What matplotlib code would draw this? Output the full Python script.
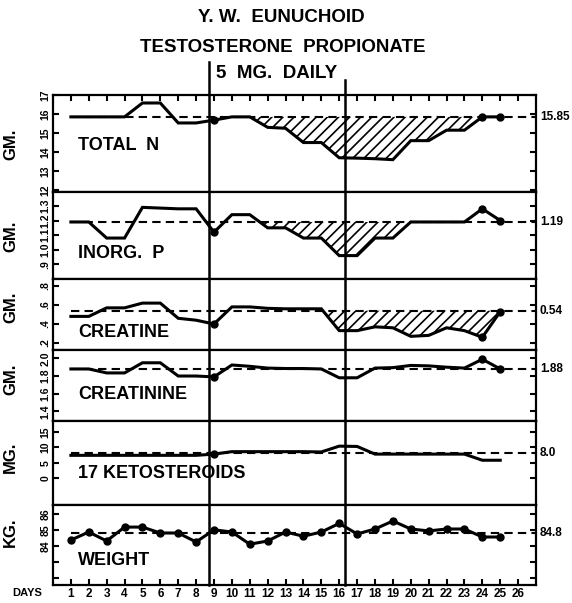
import matplotlib
matplotlib.use('Agg')
import matplotlib.pyplot as plt
import matplotlib.transforms as mtransforms
from matplotlib.lines import Line2D

plt.rcParams['font.family'] = ['Liberation Sans', 'DejaVu Sans']
plt.rcParams['font.weight'] = 'bold'
plt.rcParams['axes.labelweight'] = 'bold'
plt.rcParams['hatch.linewidth'] = 1.2

# dados (dias 1 a 25)
days = list(range(1, 26))
day_ticks = list(range(1, 27))

total_n = [15.85, 15.85, 15.85, 15.85, 16.58, 16.58, 15.53, 15.53, 15.68, 15.85, 15.85, 15.3, 15.25,
           14.5, 14.5, 13.7, 13.68, 13.65, 13.6, 14.6, 14.6, 15.15, 15.15, 15.85, 15.85]
inorg_p = [1.19, 1.19, 1.08, 1.08, 1.29, 1.285, 1.28, 1.28, 1.12, 1.24, 1.24, 1.15, 1.15,
           1.08, 1.08, 0.96, 0.96, 1.08, 1.08, 1.19, 1.19, 1.19, 1.19, 1.28, 1.20]
creatine = [0.48, 0.48, 0.57, 0.57, 0.62, 0.62, 0.46, 0.44, 0.40, 0.58, 0.58, 0.565, 0.56,
            0.56, 0.56, 0.33, 0.33, 0.37, 0.36, 0.27, 0.28, 0.36, 0.33, 0.26, 0.53]
creatinine = [1.88, 1.88, 1.835, 1.835, 1.95, 1.95, 1.80, 1.80, 1.79, 1.925, 1.91, 1.89, 1.885,
              1.885, 1.88, 1.78, 1.78, 1.89, 1.895, 1.92, 1.915, 1.90, 1.89, 1.99, 1.88]
ketosteroids = [7.4, 7.4, 7.4, 7.4, 7.4, 7.4, 7.4, 7.4, 7.8, 8.6, 8.6, 8.6, 8.6,
                8.6, 8.5, 10.4, 10.3, 7.8, 7.8, 7.8, 7.8, 7.8, 7.8, 5.8, 5.8]
weight = [84.36, 84.86, 84.3, 85.17, 85.17, 84.8, 84.8, 84.24, 85.0, 84.86, 84.1, 84.3, 84.86,
          84.6, 84.86, 85.4, 84.74, 85.05, 85.55, 85.05, 84.93, 85.05, 85.05, 84.55, 84.55]

# medias de controle (linha tracejada)
baselines = [15.85, 1.19, 0.54, 1.88, 8.0, 84.8]
baseline_labels = ['15.85', '1.19', '0.54', '1.88', '8.0', '84.8']

panel_names = ['TOTAL  N', 'INORG.  P', 'CREATINE', 'CREATININE', '17 KETOSTEROIDS', 'WEIGHT']
units = ['GM.', 'GM.', 'GM.', 'GM.', 'MG.', 'KG.']

ytick_vals = [[12, 13, 14, 15, 16, 17],
              [0.8, 0.9, 1.0, 1.1, 1.2, 1.3],
              [0.2, 0.4, 0.6, 0.8],
              [1.4, 1.6, 1.8, 2.0],
              [0, 5, 10, 15],
              [82, 83, 84, 85, 86]]
ytick_labels = [['12', '13', '14', '15', '16', '17'],
                ['', '.9', '1.0', '1.1', '1.2', '1.3'],
                ['.2', '.4', '.6', '.8'],
                ['1.4', '1.6', '1.8', '2.0'],
                ['0', '5', '10', '15'],
                ['', '', '84', '85', '86']]

treatment_start = 8.7
treatment_stop = 16.35

# --- layout ---
series = [total_n, inorg_p, creatine, creatinine, ketosteroids, weight]
ylims = [(11.9, 17.0), (0.8, 1.395), (0.126, 0.874), (1.29, 2.095), (-8.8, 18.6), (81.55, 86.55)]
hatched = [True, True, True, False, False, False]
marks = [[8, 23, 24], [8, 23, 24], [8, 23, 24], [8, 23, 24], [8], list(range(25))]
name_y = [0.48, 0.29, 0.25, 0.38, 0.38, 0.31]
unit_y = [0.49, 0.49, 0.60, 0.59, 0.57, 0.66]

W, H = 572, 603
left_px, right_px = 53, 536
edges_px = [95, 192, 279, 350, 421, 505, 585]

fig = plt.figure(figsize=(W / 100, H / 100), dpi=100)
axes = []
for i in range(6):
    top, bot = edges_px[i], edges_px[i + 1]
    ax = fig.add_axes([left_px / W, 1 - bot / H, (right_px - left_px) / W, (bot - top) / H])
    axes.append(ax)
    base = baselines[i]
    vals = series[i]

    ax.hlines(base, 1, 27, colors='black', linewidth=1.5, linestyles=(0, (4, 2.5)))
    ax.plot(days, vals, color='black', linewidth=2.2, marker='o', markersize=5,
            markevery=marks[i], solid_joinstyle='miter')
    if hatched[i]:
        ax.fill_between(days, base, vals,
                        where=[(d >= 10 and v < base) for d, v in zip(days, vals)],
                        interpolate=True, facecolor='none', edgecolor='black',
                        hatch='///', linewidth=0)

    ax.set_xlim(0, 27)
    ax.set_ylim(*ylims[i])
    ax.set_yticks(ytick_vals[i])
    ax.set_yticklabels(ytick_labels[i], rotation=90, va='center', fontsize=7.5)
    ax.set_xticks(day_ticks)
    ax.tick_params(axis='y', direction='in', left=True, right=True, length=4, width=1.5, pad=2)
    ax.tick_params(axis='x', direction='in', bottom=False, top=False, labelbottom=False,
                   length=4, width=1.5)
    for s in ax.spines.values():
        s.set_linewidth(1.6)

    ax.text(0.052, name_y[i], panel_names[i], transform=ax.transAxes, fontsize=13,
            va='center', ha='left')
    ax.set_ylabel(units[i], fontsize=12, fontweight='bold')
    ax.yaxis.set_label_coords(-0.072, unit_y[i])
    tr = mtransforms.blended_transform_factory(ax.transAxes, ax.transData)
    ax.text(1.008, base, baseline_labels[i], transform=tr, fontsize=8.5, va='center', ha='left')

axes[0].tick_params(axis='x', top=True)
axes[-1].tick_params(axis='x', bottom=True, labelbottom=True, labelsize=8.5, pad=2)
fig.text(12 / W, 1 - 593 / H, 'DAYS', fontsize=8, va='center', ha='left')

# linhas verticais do inicio e fim do tratamento
trans = mtransforms.blended_transform_factory(axes[0].transData, fig.transFigure)
fig.add_artist(Line2D([treatment_start, treatment_start], [1 - 585 / H, 1 - 62 / H],
                      transform=trans, color='black', linewidth=1.8))
fig.add_artist(Line2D([treatment_stop, treatment_stop], [1 - 585 / H, 1 - 80 / H],
                      transform=trans, color='black', linewidth=1.8))

# titulos
fig.text(281 / W, 1 - 18 / H, 'Y. W.  EUNUCHOID', fontsize=13.5, ha='center', va='center')
fig.text(283 / W, 1 - 47 / H, 'TESTOSTERONE  PROPIONATE', fontsize=13.5, ha='center', va='center')
fig.text(277 / W, 1 - 73 / H, '5  MG.  DAILY', fontsize=13.5, ha='center', va='center')

fig.savefig('out.png', dpi=100)
